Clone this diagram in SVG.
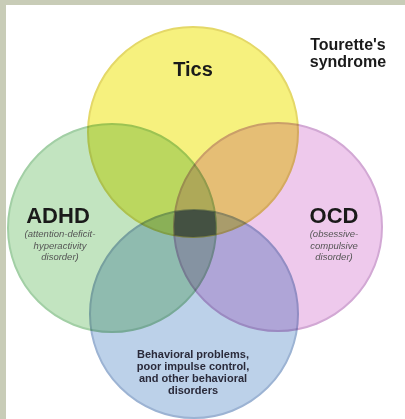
<svg xmlns="http://www.w3.org/2000/svg" width="405" height="419" viewBox="0 0 405 419">
<style>
.c{mix-blend-mode:multiply;stroke-width:2}
.t{font-family:"Liberation Sans",Arial,sans-serif;font-weight:bold;fill:#1a1a1a;text-anchor:middle}
.s{font-family:"Liberation Sans",Arial,sans-serif;font-style:italic;font-size:9.5px;fill:#555;text-anchor:middle}
.b{font-family:"Liberation Sans",Arial,sans-serif;font-weight:bold;font-size:11px;fill:#2a2a3a;text-anchor:middle}
</style>
<rect width="405" height="419" fill="#c8ccb7"/>
<rect x="6" y="5" width="399" height="414" fill="#ffffff"/>
<g id="circles" style="isolation:isolate">
<g id="tics"><circle class="c" cx="193" cy="132" r="105" fill="#f6f17e" stroke="#e4d868"/></g>
<g id="adhd"><circle class="c" cx="112" cy="228" r="104" fill="#c2e4c0" stroke="#a2cfa5"/></g>
<g id="ocd"><circle class="c" cx="278" cy="227" r="104" fill="#eec9ec" stroke="#d2a8d4"/></g>
<g id="behavioral"><circle class="c" cx="194" cy="314" r="104" fill="#bcd1e9" stroke="#9cb3d3"/></g>
</g>
<g id="center">
<path d="M175.3,211.7 A104,104 0 0 1 214.5,212 A104,104 0 0 1 215.8,234.5 A105,105 0 0 1 174.5,235.3 A104,104 0 0 1 175.3,211.7 Z" fill="#3a4640" fill-opacity="0.85"/>
</g>
<g id="labels">
<text class="t" x="193" y="76" font-size="20">Tics</text>
<text class="t" x="348" y="50" font-size="16">Tourette's</text>
<text class="t" x="348" y="67" font-size="16">syndrome</text>
<text class="t" x="58" y="223" font-size="22">ADHD</text>
<text class="s" x="60" y="237">(attention-deficit-</text>
<text class="s" x="60" y="249">hyperactivity</text>
<text class="s" x="60" y="260">disorder)</text>
<text class="t" x="334" y="223" font-size="22">OCD</text>
<text class="s" x="334" y="237">(obsessive-</text>
<text class="s" x="334" y="249">compulsive</text>
<text class="s" x="334" y="260">disorder)</text>
<text class="b" x="193" y="358">Behavioral problems,</text>
<text class="b" x="193" y="370">poor impulse control,</text>
<text class="b" x="193" y="382">and other behavioral</text>
<text class="b" x="193" y="394">disorders</text>
</g>
</svg>
